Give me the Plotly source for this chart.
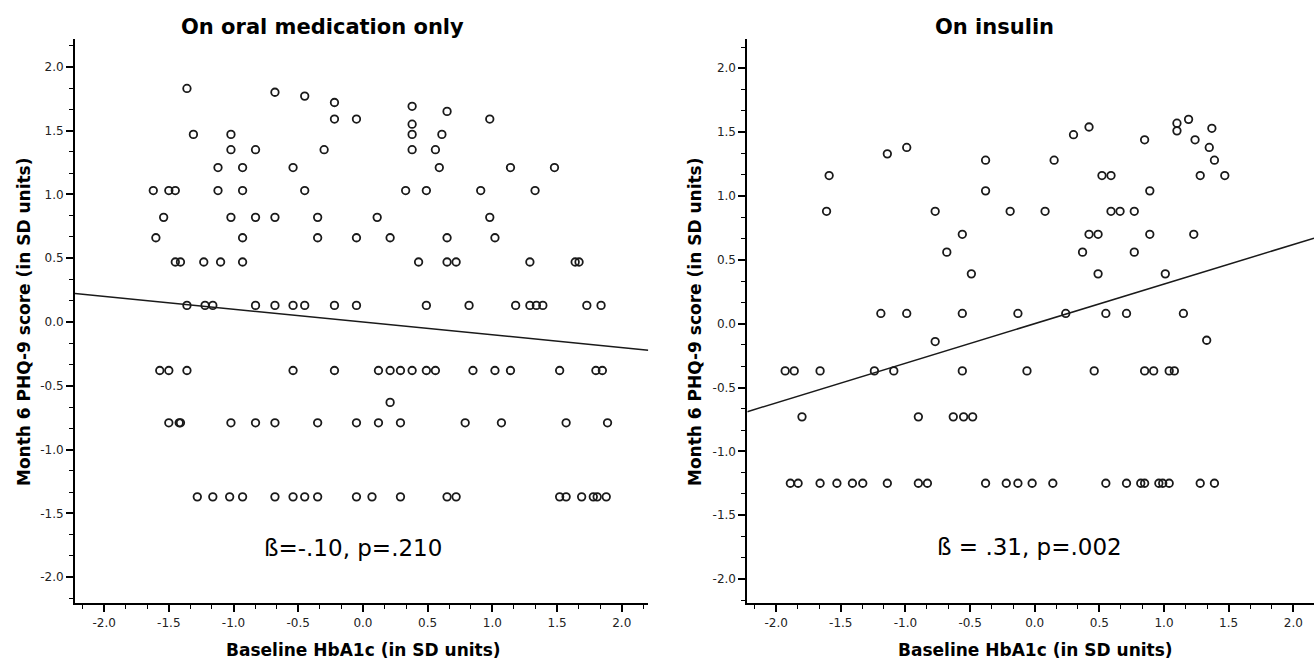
import plotly.graph_objects as go

# ---------------- data ----------------
panel_titles = ["On oral medication only", "On insulin"]
stat_labels = ["ß=-.10, p=.210", "ß = .31, p=.002"]
x_title = "Baseline HbA1c (in SD units)"
y_title = "Month 6 PHQ-9 score (in SD units)"

tick_values = [-2.0, -1.5, -1.0, -0.5, 0.0, 0.5, 1.0, 1.5, 2.0]
tick_labels = ["-2.0", "-1.5", "-1.0", "-0.5", "0.0", "0.5", "1.0", "1.5", "2.0"]

# regression lines (slope = standardized beta, intercept ~ 0)
slopes = [-0.10, 0.31]
intercepts = [0.0, 0.0]

# Oral medication only
oral_x = [
    -1.36, -0.68, -0.45, -0.22, 0.38, 0.65,
    -0.22, -0.05, 0.98, 0.38,
    -1.31, -1.02, 0.38, 0.61,
    -1.02, -0.83, -0.30, 0.38, 0.56,
    -1.12, -0.93, -0.54, 0.59, 1.14, 1.48,
    -1.62, -1.50, -1.45, -1.12, -0.93, -0.45, 0.33, 0.49, 0.91, 1.33,
    -1.54, -1.02, -0.83, -0.68, -0.35, 0.11, 0.98,
    -1.60, -0.93, -0.35, -0.05, 0.21, 0.65, 1.02,
    -1.45, -1.41, -1.23, -1.10, -0.93, 0.43, 0.65, 0.72, 1.29, 1.64, 1.67,
    -1.36, -1.22, -1.16, -0.83, -0.68, -0.54, -0.45, -0.22, -0.05, 0.49, 0.82, 1.18, 1.29, 1.34, 1.39, 1.73, 1.84,
    -1.57, -1.50, -1.36, -0.54, -0.22, 0.12, 0.21, 0.29, 0.38, 0.49, 0.56, 0.85, 1.02, 1.14, 1.52, 1.80, 1.85,
    0.21,
    -1.50, -1.42, -1.41, -1.02, -0.83, -0.68, -0.35, -0.05, 0.12, 0.29, 0.79, 1.07, 1.57, 1.89,
    -1.28, -1.16, -1.03, -0.93, -0.68, -0.54, -0.45, -0.35, -0.05, 0.07, 0.29, 0.65, 0.72, 1.52, 1.57, 1.69, 1.78, 1.81, 1.88,
]
oral_y = (
    [1.83, 1.80, 1.77, 1.72, 1.69, 1.65]
    + [1.59, 1.59, 1.59, 1.55]
    + [1.47] * 4
    + [1.35] * 5
    + [1.21] * 6
    + [1.03] * 10
    + [0.82] * 7
    + [0.66] * 7
    + [0.47] * 11
    + [0.13] * 17
    + [-0.38] * 17
    + [-0.63]
    + [-0.79] * 14
    + [-1.37] * 19
)

# On insulin
insulin_x = [
    1.10, 1.10, 1.19, 0.42, 0.30, 1.37, 0.85, 1.24, 1.35, -0.99, -1.14,
    -0.38, 0.15, 1.39,
    -1.59, 0.52, 0.59, 1.28, 1.47,
    -0.38, 0.89,
    -1.61, -0.77, -0.19, 0.08, 0.59, 0.66, 0.77,
    -0.56, 0.42, 0.49, 0.89, 1.23,
    -0.68, 0.37, 0.77,
    -0.49, 0.49, 1.01,
    -1.19, -0.99, -0.56, -0.13, 0.24, 0.55, 0.71, 1.15,
    -0.77, 1.33,
    -1.93, -1.86, -1.66, -1.24, -1.09, -0.56, -0.06, 0.46, 0.85, 0.92, 1.04, 1.08,
    -1.80, -0.90, -0.63, -0.55, -0.48,
    -1.89, -1.83, -1.66, -1.53, -1.41, -1.33, -1.14, -0.90, -0.83, -0.38, -0.22,
    -0.13, -0.02, 0.14, 0.55, 0.71, 0.82, 0.85, 0.96, 0.99, 1.04, 1.28, 1.39,
]
insulin_y = (
    [1.57, 1.51, 1.60, 1.54, 1.48, 1.53, 1.44, 1.44, 1.38, 1.38, 1.33]
    + [1.28] * 3
    + [1.16] * 5
    + [1.04] * 2
    + [0.88] * 7
    + [0.70] * 5
    + [0.56] * 3
    + [0.39] * 3
    + [0.08] * 8
    + [-0.14, -0.13]
    + [-0.37] * 12
    + [-0.73] * 5
    + [-1.25] * 23
)

# ---------------- layout geometry ----------------
W, H = 1314, 659
x_ranges = [[-2.225, 2.205], [-2.223, 2.16]]
y_ranges = [[-2.204, 2.215], [-2.19, 2.227]]
x_domains = [[75 / W, 648.3 / W], [747.3 / W, 1.0]]
y_domain = [(H - 603.3) / H, (H - 39.3) / H]

fig = go.Figure()

series = [(oral_x, oral_y), (insulin_x, insulin_y)]
for i, (xs, ys) in enumerate(series):
    xa = "x" if i == 0 else "x2"
    ya = "y" if i == 0 else "y2"
    fig.add_trace(go.Scatter(
        x=xs, y=ys, mode="markers", xaxis=xa, yaxis=ya,
        marker=dict(symbol="circle-open", size=7.5, color="#1a1a1a",
                    line=dict(color="#1a1a1a", width=1.8)),
        showlegend=False, hoverinfo="skip"))
    lx = x_ranges[i]
    ly = [intercepts[i] + slopes[i] * v for v in lx]
    fig.add_trace(go.Scatter(
        x=lx, y=ly, mode="lines", xaxis=xa, yaxis=ya,
        line=dict(color="#1a1a1a", width=1.5),
        showlegend=False, hoverinfo="skip"))

tick_font = dict(family="DejaVu Sans", size=12, color="#222")
def axis_style(rng, dom):
    return dict(
        range=rng, domain=dom, showgrid=False, zeroline=False,
        showline=True, linecolor="black", linewidth=1.8,
        ticks="outside", ticklen=7, tickwidth=1.6, tickcolor="black",
        tickmode="array", tickvals=tick_values, ticktext=tick_labels,
        tickfont=tick_font,
        minor=dict(tickmode="linear", tick0=0, dtick=0.5 / 3, ticks="outside",
                   ticklen=4, tickwidth=1.3, tickcolor="black"),
        fixedrange=True,
    )

fig.update_layout(
    width=W, height=H,
    margin=dict(l=0, r=0, t=0, b=0),
    paper_bgcolor="white", plot_bgcolor="white",
    xaxis=dict(axis_style(x_ranges[0], x_domains[0]), anchor="y"),
    yaxis=dict(axis_style(y_ranges[0], y_domain), anchor="x"),
    xaxis2=dict(axis_style(x_ranges[1], x_domains[1]), anchor="y2"),
    yaxis2=dict(axis_style(y_ranges[1], y_domain), anchor="x2"),
)

title_font = dict(family="DejaVu Sans", size=21, color="black", weight="bold")
label_font = dict(family="DejaVu Sans", size=17, color="black", weight="bold")
stat_font = dict(family="DejaVu Sans", size=23, color="black")

title_x = [322, 994]
xlab_x = [363, 1035]
ylab_x = [24, 695]
stat_pos = [(-0.08, -1.77), (-0.04, -1.75)]
for i in range(2):
    fig.add_annotation(text=panel_titles[i], xref="paper", yref="paper",
                       x=title_x[i] / W, y=1 - 27 / H, showarrow=False,
                       xanchor="center", yanchor="middle", font=title_font)
    fig.add_annotation(text=x_title, xref="paper", yref="paper",
                       x=xlab_x[i] / W, y=1 - 650 / H, showarrow=False,
                       xanchor="center", yanchor="middle", font=label_font)
    fig.add_annotation(text=y_title, xref="paper", yref="paper",
                       x=ylab_x[i] / W, y=1 - 322 / H, showarrow=False,
                       textangle=-90, xanchor="center", yanchor="middle",
                       font=label_font)
    fig.add_annotation(text=stat_labels[i],
                       xref="x" if i == 0 else "x2", yref="y" if i == 0 else "y2",
                       x=stat_pos[i][0], y=stat_pos[i][1], showarrow=False,
                       xanchor="center", yanchor="middle", font=stat_font)

fig.write_html("out.html", config={"displayModeBar": False},
               post_script="document.body.style.margin='0px';")
